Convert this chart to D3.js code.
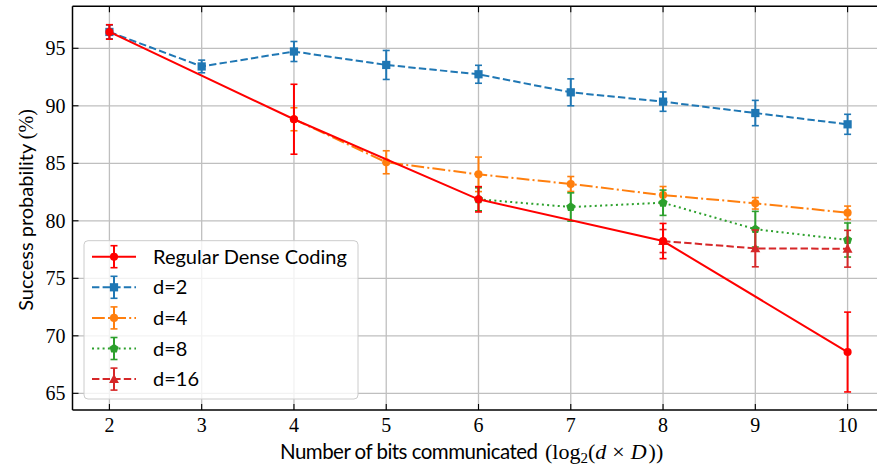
<!DOCTYPE html>
<html>
<head>
<meta charset="utf-8">
<script src="https://cdn.jsdelivr.net/npm/d3@7"></script>
<style>
  html, body { margin: 0; padding: 0; background: #fff; }
  svg { display: block; }
</style>
</head>
<body>
<svg id="chart" width="877" height="468"></svg>
<script>
// ---------- data ----------
const xTicks = [2, 3, 4, 5, 6, 7, 8, 9, 10];
const yTicks = [65, 70, 75, 80, 85, 90, 95];

const regularX = [2, 4, 6, 8, 10];
const regularY = [96.42, 88.83, 81.87, 78.24, 68.59];
const regularErr = [0.63, 3.04, 1.1, 1.53, 3.47];

const d2X = [2, 3, 4, 5, 6, 7, 8, 9, 10];
const d2Y = [96.42, 93.42, 94.72, 93.55, 92.74, 91.17, 90.36, 89.37, 88.39];
const d2Err = [0.6, 0.55, 0.87, 1.26, 0.78, 1.17, 0.84, 1.1, 0.87];

const d4X = [4, 5, 6, 7, 8, 9, 10];
const d4Y = [88.83, 85.09, 84.04, 83.2, 82.24, 81.52, 80.7];
const d4Err = [1.0, 1.0, 1.5, 0.65, 0.74, 0.5, 0.58];

const d8X = [6, 7, 8, 9, 10];
const d8Y = [81.87, 81.2, 81.57, 79.27, 78.33];
const d8Err = [1.0, 1.23, 1.1, 1.55, 1.48];

const d16X = [8, 9, 10];
const d16Y = [78.24, 77.6, 77.57];
const d16Err = [1.0, 1.6, 1.6];

const seriesNames = ["Regular Dense Coding", "d=2", "d=4", "d=8", "d=16"];

// ---------- layout ----------
const svg = d3.select("#chart");
const L = 72.5, R = 884.5, T = 6.3, B = 410;
const x = d3.scaleLinear().domain([1.6, 10.4]).range([L, R]);
const y = d3.scaleLinear().domain([63.55, 98.65]).range([B, T]);

const serif = "'Liberation Serif', 'DejaVu Serif', serif";
const sans = "Lato, 'Open Sans', 'DejaVu Sans', sans-serif";

const series = [
  { name: seriesNames[1], xs: d2X, ys: d2Y, err: d2Err, color: "#1f77b4", dash: "7.4,3.2", marker: "square" },
  { name: seriesNames[2], xs: d4X, ys: d4Y, err: d4Err, color: "#ff7f0e", dash: "12.8,3.2,2,3.2", marker: "circle" },
  { name: seriesNames[3], xs: d8X, ys: d8Y, err: d8Err, color: "#2ca02c", dash: "2,3.3", marker: "pentagon" },
  { name: seriesNames[4], xs: d16X, ys: d16Y, err: d16Err, color: "#d62728", dash: "7.4,3.2", marker: "triangle" },
  { name: seriesNames[0], xs: regularX, ys: regularY, err: regularErr, color: "#ff0000", dash: null, marker: "circle" }
];
const legendOrder = [4, 0, 1, 2, 3];

// ---------- grid ----------
const grid = svg.append("g");
grid.selectAll("line.gx").data(xTicks).join("line")
  .attr("x1", d => x(d)).attr("x2", d => x(d)).attr("y1", T).attr("y2", B)
  .attr("stroke", "#bfbfbf").attr("stroke-width", 1.3);
grid.selectAll("line.gy").data(yTicks).join("line")
  .attr("x1", L).attr("x2", R).attr("y1", d => y(d)).attr("y2", d => y(d))
  .attr("stroke", "#bfbfbf").attr("stroke-width", 1.3);

// ---------- markers ----------
function markerPath(type) {
  if (type === "square") return d3.symbol(d3.symbolSquare, 68)();
  if (type === "circle") return d3.symbol(d3.symbolCircle, 52)();
  if (type === "triangle") {
    const s = 5.2;
    return `M0,${-s}L${s * 0.95},${s * 0.75}L${-s * 0.95},${s * 0.75}Z`;
  }
  if (type === "pentagon") {
    const r = 4.8;
    const pts = d3.range(5).map(i => {
      const a = -Math.PI / 2 + i * 2 * Math.PI / 5;
      return [r * Math.cos(a), r * Math.sin(a)];
    });
    return "M" + pts.map(p => p.join(",")).join("L") + "Z";
  }
}

// ---------- series ----------
const line = d3.line();
const capW = 3.5;
series.forEach(s => {
  const g = svg.append("g");
  const pts = s.xs.map((xv, i) => [x(xv), y(s.ys[i])]);
  g.append("path").attr("d", line(pts)).attr("fill", "none")
    .attr("stroke", s.color).attr("stroke-width", 2)
    .attr("stroke-dasharray", s.dash);
  s.xs.forEach((xv, i) => {
    const cx = x(xv), y1 = y(s.ys[i] + s.err[i]), y2 = y(s.ys[i] - s.err[i]);
    g.append("line").attr("x1", cx).attr("x2", cx).attr("y1", y1).attr("y2", y2)
      .attr("stroke", s.color).attr("stroke-width", 2);
    [y1, y2].forEach(yy => g.append("line").attr("x1", cx - capW).attr("x2", cx + capW)
      .attr("y1", yy).attr("y2", yy).attr("stroke", s.color).attr("stroke-width", 1.6));
  });
  g.selectAll("path.m").data(pts).join("path")
    .attr("d", markerPath(s.marker))
    .attr("transform", d => `translate(${d[0]},${d[1]})`)
    .attr("fill", s.color);
});

// ---------- axes / spines ----------
const ax = svg.append("g");
ax.append("line").attr("x1", L).attr("x2", R).attr("y1", B).attr("y2", B).attr("stroke", "#000").attr("stroke-width", 1.5);
ax.append("line").attr("x1", L).attr("x2", R).attr("y1", T).attr("y2", T).attr("stroke", "#000").attr("stroke-width", 1.5);
ax.append("line").attr("x1", L).attr("x2", L).attr("y1", T).attr("y2", B).attr("stroke", "#000").attr("stroke-width", 1.5);
ax.append("line").attr("x1", R).attr("x2", R).attr("y1", T).attr("y2", B).attr("stroke", "#000").attr("stroke-width", 1.5);

xTicks.forEach(t => {
  ax.append("line").attr("x1", x(t)).attr("x2", x(t)).attr("y1", B).attr("y2", B - 6).attr("stroke", "#000").attr("stroke-width", 1.1);
  ax.append("line").attr("x1", x(t)).attr("x2", x(t)).attr("y1", T).attr("y2", T + 6).attr("stroke", "#000").attr("stroke-width", 1.1);
  ax.append("text").attr("x", x(t)).attr("y", 431.5).attr("text-anchor", "middle")
    .attr("font-family", serif).attr("font-size", 20).attr("fill", "#000").text(t);
});
yTicks.forEach(t => {
  ax.append("line").attr("x1", L).attr("x2", L + 6).attr("y1", y(t)).attr("y2", y(t)).attr("stroke", "#000").attr("stroke-width", 1.1);
  ax.append("line").attr("x1", R).attr("x2", R - 6).attr("y1", y(t)).attr("y2", y(t)).attr("stroke", "#000").attr("stroke-width", 1.1);
  ax.append("text").attr("x", 65.5).attr("y", y(t) + 6.8).attr("text-anchor", "end")
    .attr("font-family", serif).attr("font-size", 20).attr("fill", "#000").text(t);
});

// axis labels
svg.append("text").attr("x", 280).attr("y", 459).attr("font-size", 20.5)
  .attr("font-family", sans).attr("fill", "#000")
  .attr("textLength", 258).attr("lengthAdjust", "spacing")
  .text("Number of bits communicated");
const xm = svg.append("text").attr("x", 545).attr("y", 459).attr("font-size", 22)
  .attr("font-family", serif).attr("fill", "#000");
xm.append("tspan").text("(log");
xm.append("tspan").attr("font-size", 15).attr("dy", 4).text("2");
xm.append("tspan").attr("dy", -4).text("(");
xm.append("tspan").attr("font-style", "italic").text("d");
xm.append("tspan").attr("dx", 6).text("×");
xm.append("tspan").attr("dx", 6).attr("font-style", "italic").text("D");
xm.append("tspan").attr("dx", 2).text("))");

const yl = svg.append("text").attr("transform", "translate(33,210) rotate(-90)")
  .attr("text-anchor", "middle").attr("font-size", 20).attr("fill", "#000");
yl.append("tspan").attr("font-family", sans).text("Success probability ");
yl.append("tspan").attr("font-family", serif).text("(%)");

// ---------- legend ----------
const lg = svg.append("g");
lg.append("rect").attr("x", 84).attr("y", 240.7).attr("width", 274).attr("height", 158.3)
  .attr("rx", 4).attr("fill", "#fff").attr("fill-opacity", 0.8)
  .attr("stroke", "#cccccc").attr("stroke-width", 1);
legendOrder.forEach((si, k) => {
  const s = series[si];
  const cy = 256.7 + k * 30.6;
  lg.append("line").attr("x1", 92).attr("x2", 136).attr("y1", cy).attr("y2", cy)
    .attr("stroke", s.color).attr("stroke-width", 2).attr("stroke-dasharray", s.dash);
  lg.append("line").attr("x1", 114).attr("x2", 114).attr("y1", cy - 11).attr("y2", cy + 11)
    .attr("stroke", s.color).attr("stroke-width", 2);
  [cy - 11, cy + 11].forEach(yy => lg.append("line").attr("x1", 114 - capW).attr("x2", 114 + capW)
    .attr("y1", yy).attr("y2", yy).attr("stroke", s.color).attr("stroke-width", 1.6));
  lg.append("path").attr("d", markerPath(s.marker)).attr("transform", `translate(114,${cy})`).attr("fill", s.color);
  lg.append("text").attr("x", 153).attr("y", cy + 7).attr("font-family", sans).attr("font-size", 20)
    .attr("fill", "#000").text(s.name);
});
</script>
</body>
</html>
